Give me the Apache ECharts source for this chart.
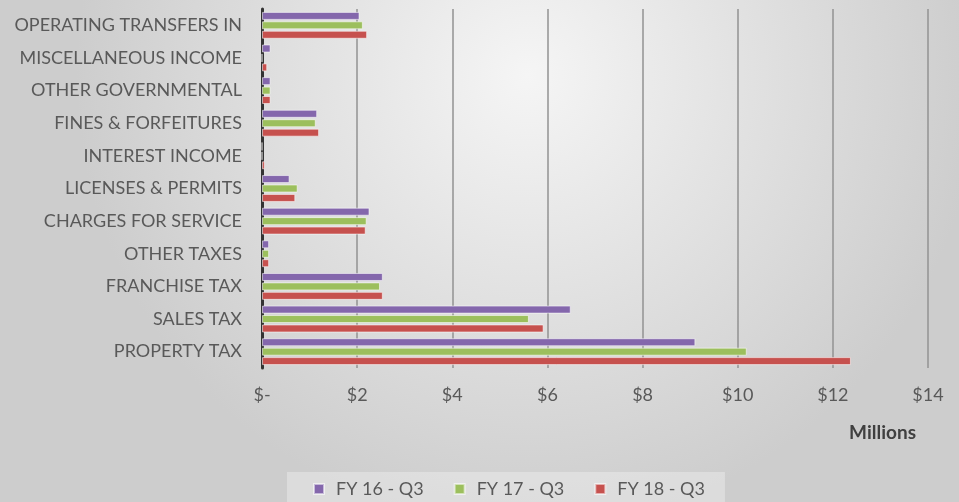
<!DOCTYPE html>
<html>
<head>
<meta charset="utf-8">
<script src="https://cdn.jsdelivr.net/npm/echarts@6/dist/echarts.min.js"></script>
<style>
  html, body { margin: 0; padding: 0; }
  #chart { width: 959px; height: 502px; }
</style>
</head>
<body>
<div id="chart"></div>
<script>
// categories listed bottom to top (category axis starts at the bottom)
const categories = [
  'PROPERTY TAX',
  'SALES TAX',
  'FRANCHISE TAX',
  'OTHER TAXES',
  'CHARGES FOR SERVICE',
  'LICENSES & PERMITS',
  'INTEREST INCOME',
  'FINES & FORFEITURES',
  'OTHER GOVERNMENTAL',
  'MISCELLANEOUS INCOME',
  'OPERATING TRANSFERS IN'
]

// values in millions
const fy16 = [9.11, 6.49, 2.54, 0.15, 2.26, 0.58, 0.0, 1.16, 0.18, 0.18, 2.05]
const fy17 = [10.19, 5.61, 2.48, 0.15, 2.20, 0.75, 0.0, 1.13, 0.18, 0.0, 2.12]
const fy18 = [12.38, 5.92, 2.54, 0.15, 2.18, 0.70, 0.06, 1.20, 0.18, 0.11, 2.21]

const tickLabels = ['$-', '$2', '$4', '$6', '$8', '$10', '$12', '$14']

const seriesNames = ['FY 16 - Q3', 'FY 17 - Q3', 'FY 18 - Q3']
const colors = ['#8467ac', '#9cbf5d', '#c6514e']

const font = 'Lato'

const chart = echarts.init(document.getElementById('chart'))

const makeSeries = (name, data, color) => ({
  name: name,
  type: 'bar',
  data: data,
  barWidth: 8,
  barGap: '18%',
  barCategoryGap: '18%',
  itemStyle: {
    color: color,
    borderColor: 'rgba(255,255,255,0.55)',
    borderWidth: 1
  }
})

const option = {
  backgroundColor: {
    type: 'radial',
    x: 0.55,
    y: 0.15,
    r: 0.9,
    colorStops: [
      { offset: 0, color: '#f5f5f5' },
      { offset: 1, color: '#cdcdcd' }
    ]
  },
  textStyle: { fontFamily: font },
  title: {
    text: 'Millions',
    right: 38,
    top: 418,
    textStyle: {
      fontFamily: font,
      fontSize: 19,
      fontWeight: 'bold',
      color: '#404040'
    }
  },
  legend: {
    data: seriesNames,
    left: 287,
    top: 472,
    padding: [8, 20, 10, 26],
    backgroundColor: 'rgba(255,255,255,0.3)',
    itemWidth: 10,
    itemHeight: 10,
    itemGap: 30,
    icon: 'rect',
    textStyle: {
      fontFamily: font,
      fontSize: 18,
      color: '#595959',
      padding: [0, 0, 0, 7]
    }
  },
  grid: {
    left: 262,
    right: 31,
    top: 9,
    bottom: 134
  },
  xAxis: {
    type: 'value',
    min: 0,
    max: 14,
    interval: 2,
    axisLine: { show: false },
    axisTick: { show: false },
    splitLine: { lineStyle: { color: '#929292', width: 1.5 } },
    axisLabel: {
      margin: 18,
      fontSize: 18,
      color: '#595959',
      formatter: (v) => tickLabels[Math.round(v / 2)]
    }
  },
  yAxis: {
    type: 'category',
    data: categories,
    axisTick: { show: false },
    axisLine: { lineStyle: { color: '#333333', width: 3 } },
    axisLabel: {
      margin: 20,
      fontSize: 18,
      color: '#595959'
    }
  },
  series: [
    makeSeries(seriesNames[0], fy16, colors[0]),
    makeSeries(seriesNames[1], fy17, colors[1]),
    makeSeries(seriesNames[2], fy18, colors[2])
  ]
}

chart.setOption(option)
</script>
</body>
</html>
